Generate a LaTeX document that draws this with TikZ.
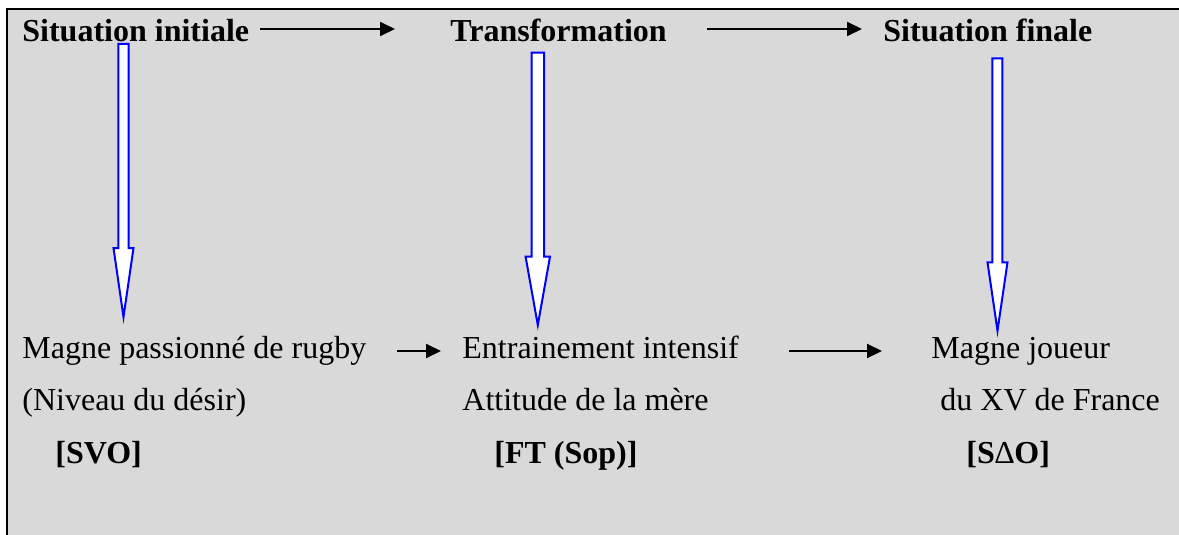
\documentclass[tikz,border=0pt]{standalone}
\usepackage{fontspec}
\setmainfont{Liberation Serif}
\usetikzlibrary{arrows.meta,calc}
\definecolor{bggray}{HTML}{D9D9D9}
\definecolor{arrblue}{HTML}{0000FF}
\tikzset{
  txt/.style={anchor=base west,inner sep=0pt,font=\fontsize{16}{19}\selectfont},
  ttl/.style={txt,font=\fontsize{16}{19}\selectfont\bfseries},
  blk/.style={line width=1pt,-{Triangle[length=7.5pt,width=7pt]}},
  barrow/.style={draw=arrblue,fill=white,line width=1pt,line join=miter}
}
\begin{document}
\begin{tikzpicture}[x=0.5pt,y=-0.5pt]
\useasboundingbox (0,0) rectangle (1179,535);
\fill[bggray] (7,9) rectangle (1179,535);
\draw[line width=1.25pt] (7,535) -- (7,9) -- (1179,9);

% titles
\node[ttl] (si) at (22,42) {Situation initiale};
\node[ttl] (tr) at (450,42) {Transformation};
\node[ttl] (sf) at (883,42) {Situation finale};

% bottom texts
\node[txt] (m1) at (22,358) {Magne passionné de rugby};
\node[txt] (n1) at (22,410) {(Niveau du désir)};
\node[ttl] (s1) at (55,463) {[SVO]};
\node[txt] (e2) at (462,358) {Entrainement intensif};
\node[txt] (a2) at (462,410) {Attitude de la mère};
\node[ttl] (f2) at (494,463) {[FT (Sop)]};
\node[txt] (m3) at (931,358) {Magne joueur};
\node[txt] (d3) at (940,410) {du XV de France};
\node[ttl] (s3) at (966,463) {[S{\mdseries ∆}O]};

% black connectors
\draw[blk] ($(si.base east)+(10,-13)$) -- ($(tr.base west)+(-55,-13)$);
\draw[blk] ($(tr.base east)+(40,-13)$) -- ($(sf.base west)+(-21,-13)$);
\draw[blk] ($(m1.base east)+(30,-7)$) -- ($(e2.base west)+(-21,-7)$);
\draw[blk] ($(e2.base east)+(50,-7)$) -- ($(m3.base west)+(-49,-7)$);

% blue block arrows
\draw[barrow] (118.3,44) -- (128.7,44) -- (128.7,248) -- (133.5,248) -- (123.5,317)
  -- (113.5,248) -- (118.3,248) -- cycle;
\draw[barrow] (531.7,52.7) -- (544,52.7) -- (544,256.7) -- (550,256.7) -- (537.8,325)
  -- (525.6,256.7) -- (531.7,256.7) -- cycle;
\draw[barrow] (992.3,58.3) -- (1002.3,58.3) -- (1002.3,262.3) -- (1007.5,262.3) -- (997.5,330.7)
  -- (987.5,262.3) -- (992.3,262.3) -- cycle;
\end{tikzpicture}
\end{document}
